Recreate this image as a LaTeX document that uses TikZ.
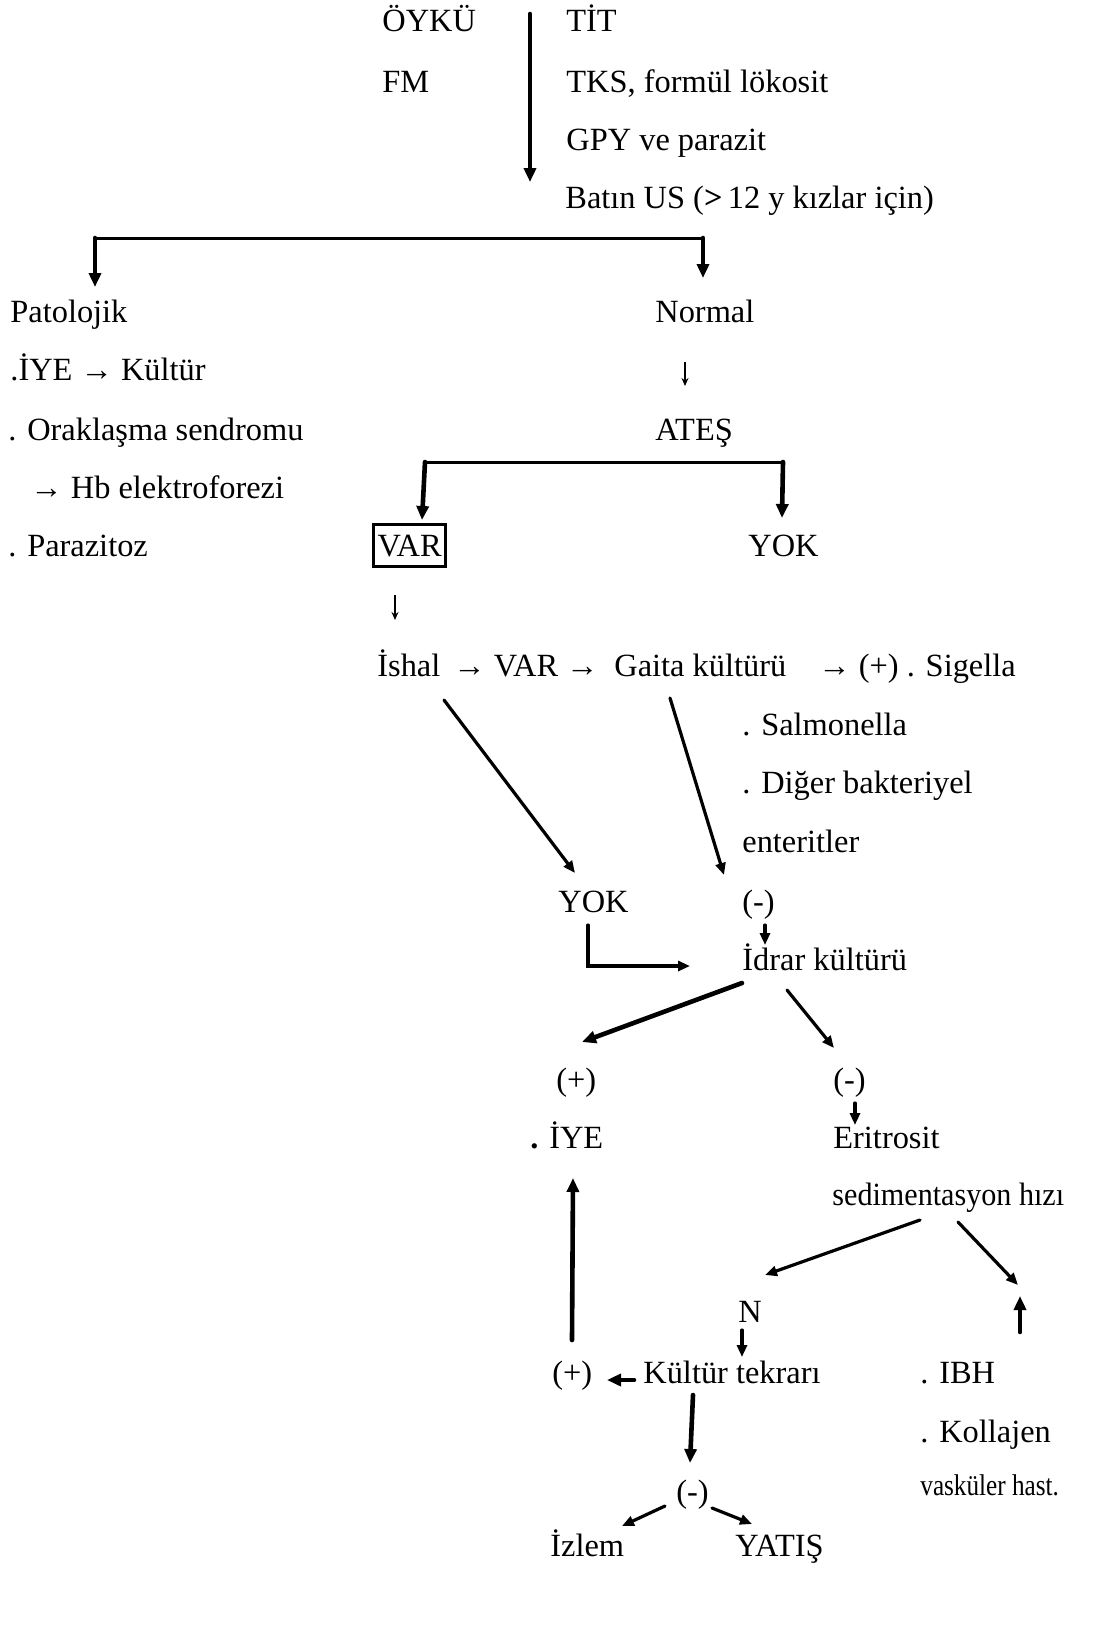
\documentclass[tikz,border=0pt]{standalone}
\usepackage{fontspec}
\setmainfont{Liberation Serif}
\usetikzlibrary{arrows.meta,calc}
\begin{document}
\begin{tikzpicture}[x=0.5pt,y=-0.5pt,
  txt/.style={anchor=base west,inner sep=0pt,font=\fontsize{16.2}{19}\selectfont},
  heavy/.style={line width=2.3pt,line cap=round,-{Triangle[length=7pt,width=6pt]}},
  mid/.style={line width=1.6pt,line cap=round,-{Triangle[length=6pt,width=5pt]}},
  thin/.style={line width=0.8pt,-{Stealth[length=4pt,width=3.5pt]}},
  bar/.style={line width=1.5pt}]
\useasboundingbox (0,0) rectangle (1120,1630);

% top
\node[txt] (oyku) at (382,31) {ÖYKÜ};
\node[txt] (fm) at (382,92) {FM};
\node[txt] (tit) at (566,31) {TİT};
\node[txt] (tks) at (566,92) {TKS, formül lökosit};
\node[txt] (gpy) at (566,150) {GPY ve parazit};
\node[txt] (batin) at (565,208) {Batın US (\textbf{>}\,12 y kızlar için)};
\coordinate (c1) at (530,14);
\coordinate (c2) at (530,182);
\draw[heavy] (c1) -- (c2);

% branch 1
\node[txt] (pat) at (10,322) {Patolojik};
\node[txt] (iye1) at (10,380) {.İYE → Kültür};
\node[txt] (orak) at (8,440) {. Oraklaşma sendromu};
\node[txt] (hb) at (30,498) {→ Hb elektroforezi};
\node[txt] (paraz) at (8,556) {. Parazitoz};
\node[txt] (normal) at (655,322) {Normal};
\node[txt] (ates) at (655,440) {ATEŞ};
\coordinate (b1l) at (95,238);
\coordinate (b1r) at (703,238);
\draw[bar] (b1l) -- (b1r);
\draw[heavy] (b1l) -- ($(pat.base west)+(85,-35)$);
\draw[heavy] (b1r) -- ($(normal.base west)+(48,-44)$);
\draw[thin] ($(normal.base west)+(30,40)$) -- ($(ates.base west)+(30,-54)$);

% branch 2
\node[txt,draw,line width=1.5pt,inner xsep=2pt,inner ysep=5pt] (var1) at (372,556) {VAR};
\node[txt] (yok1) at (748,556) {YOK};
\coordinate (b2l) at (425,462);
\coordinate (b2r) at (783,462);
\draw[bar] (b2l) -- (b2r);
\draw[heavy] (b2l) -- ($(var1.base west)+(50,-36)$);
\draw[heavy] (b2r) -- ($(yok1.base west)+(34,-38)$);

% ishal line
\node[txt] (ishal) at (377,676) {İshal};
\node[txt] (var2) at (453,676) {→ VAR →};
\node[txt] (gaita) at (614,676) {Gaita kültürü};
\node[txt] (sig) at (818,676) {→ (+) . Sigella};
\node[txt] (salm) at (742,735) {. Salmonella};
\node[txt] (diger) at (742,793) {. Diğer bakteriyel};
\node[txt] (enter) at (742,852) {enteritler};
\draw[thin] ($(var1.base west)+(23,39)$) -- ($(ishal.base west)+(18,-56)$);

\node[txt] (yok2) at (558,912) {YOK};
\node[txt] (neg1) at (742,912) {(-)};
\node[txt] (idrar) at (742,970) {İdrar kültürü};
\draw[mid] ($(ishal.base west)+(67,24)$) -- ($(yok2.base west)+(17,-39)$);
\draw[mid] ($(gaita.base west)+(56,22)$) -- ($(neg1.base west)+(-18,-37)$);
\draw[mid] ($(neg1.base west)+(23,13)$) -- ($(idrar.base west)+(23,-25)$);
\coordinate (ys) at ($(yok2.base west)+(30,13)$);
\coordinate (ye) at ($(idrar.base west)+(-52,-4)$);
\draw[mid] (ys) -- (ys |- ye) -- (ye);

% urine culture
\node[txt] (pos1) at (556,1090) {(+)};
\node[txt] (neg2) at (833,1090) {(-)};
\node[txt] (iye2) at (530,1148) {\textbf{.} İYE};
\node[txt] (erit) at (833,1148) {Eritrosit};
\node[txt] (sed) at (832,1205) {\scalebox{0.93}[1]{sedimentasyon hızı}};
\draw[heavy] ($(idrar.base west)+(0,13)$) -- ($(pos1.base west)+(26,-48)$);
\draw[mid] ($(idrar.base west)+(45,20)$) -- ($(neg2.base west)+(1,-42)$);
\draw[mid] ($(neg2.base west)+(22,13)$) -- ($(erit.base west)+(22,-23)$);

% lower part
\node[txt] (nN) at (738,1322) {N};
\node[txt] (pos2) at (552,1383) {(+)};
\node[txt] (kultur) at (643,1383) {Kültür tekrarı};
\node[txt] (ibh) at (920,1383) {. IBH};
\node[txt] (koll) at (920,1442) {. Kollajen};
\node[txt,font=\fontsize{15}{18}\selectfont] (vask) at (920,1495) {\scalebox{0.84}[1]{vasküler hast.}};
\node[txt] (neg3) at (676,1502) {(-)};
\node[txt] (izlem) at (550,1556) {İzlem};
\node[txt] (yatis) at (735,1556) {YATIŞ};

\draw[mid] ($(sed.base west)+(88,15)$) -- ($(nN.base west)+(27,-47)$);
\coordinate (rt) at ($(ibh.base west)+(98,-98)$);
\draw[mid] ($(sed.base west)+(126,17)$) -- (rt);
\draw[heavy] ($(ibh.base west)+(100,-51)$) -- ($(ibh.base west)+(100,-87)$);
\draw[mid] ($(nN.base west)+(4,8)$) -- ($(kultur.base west)+(99,-26)$);
\draw[heavy] ($(pos2.base west)+(20,-43)$) -- ($(iye2.base west)+(43,30)$);
\draw[heavy] ($(kultur.base west)+(-9,-3)$) -- ($(pos2.base west)+(55,-3)$);
\draw[heavy] ($(kultur.base west)+(50,12)$) -- ($(neg3.base west)+(14,-39)$);
\draw[mid] ($(neg3.base west)+(-11,4)$) -- ($(izlem.base west)+(72,-30)$);
\draw[mid] ($(neg3.base west)+(36,6)$) -- ($(yatis.base west)+(17,-32)$);
\end{tikzpicture}
\end{document}
